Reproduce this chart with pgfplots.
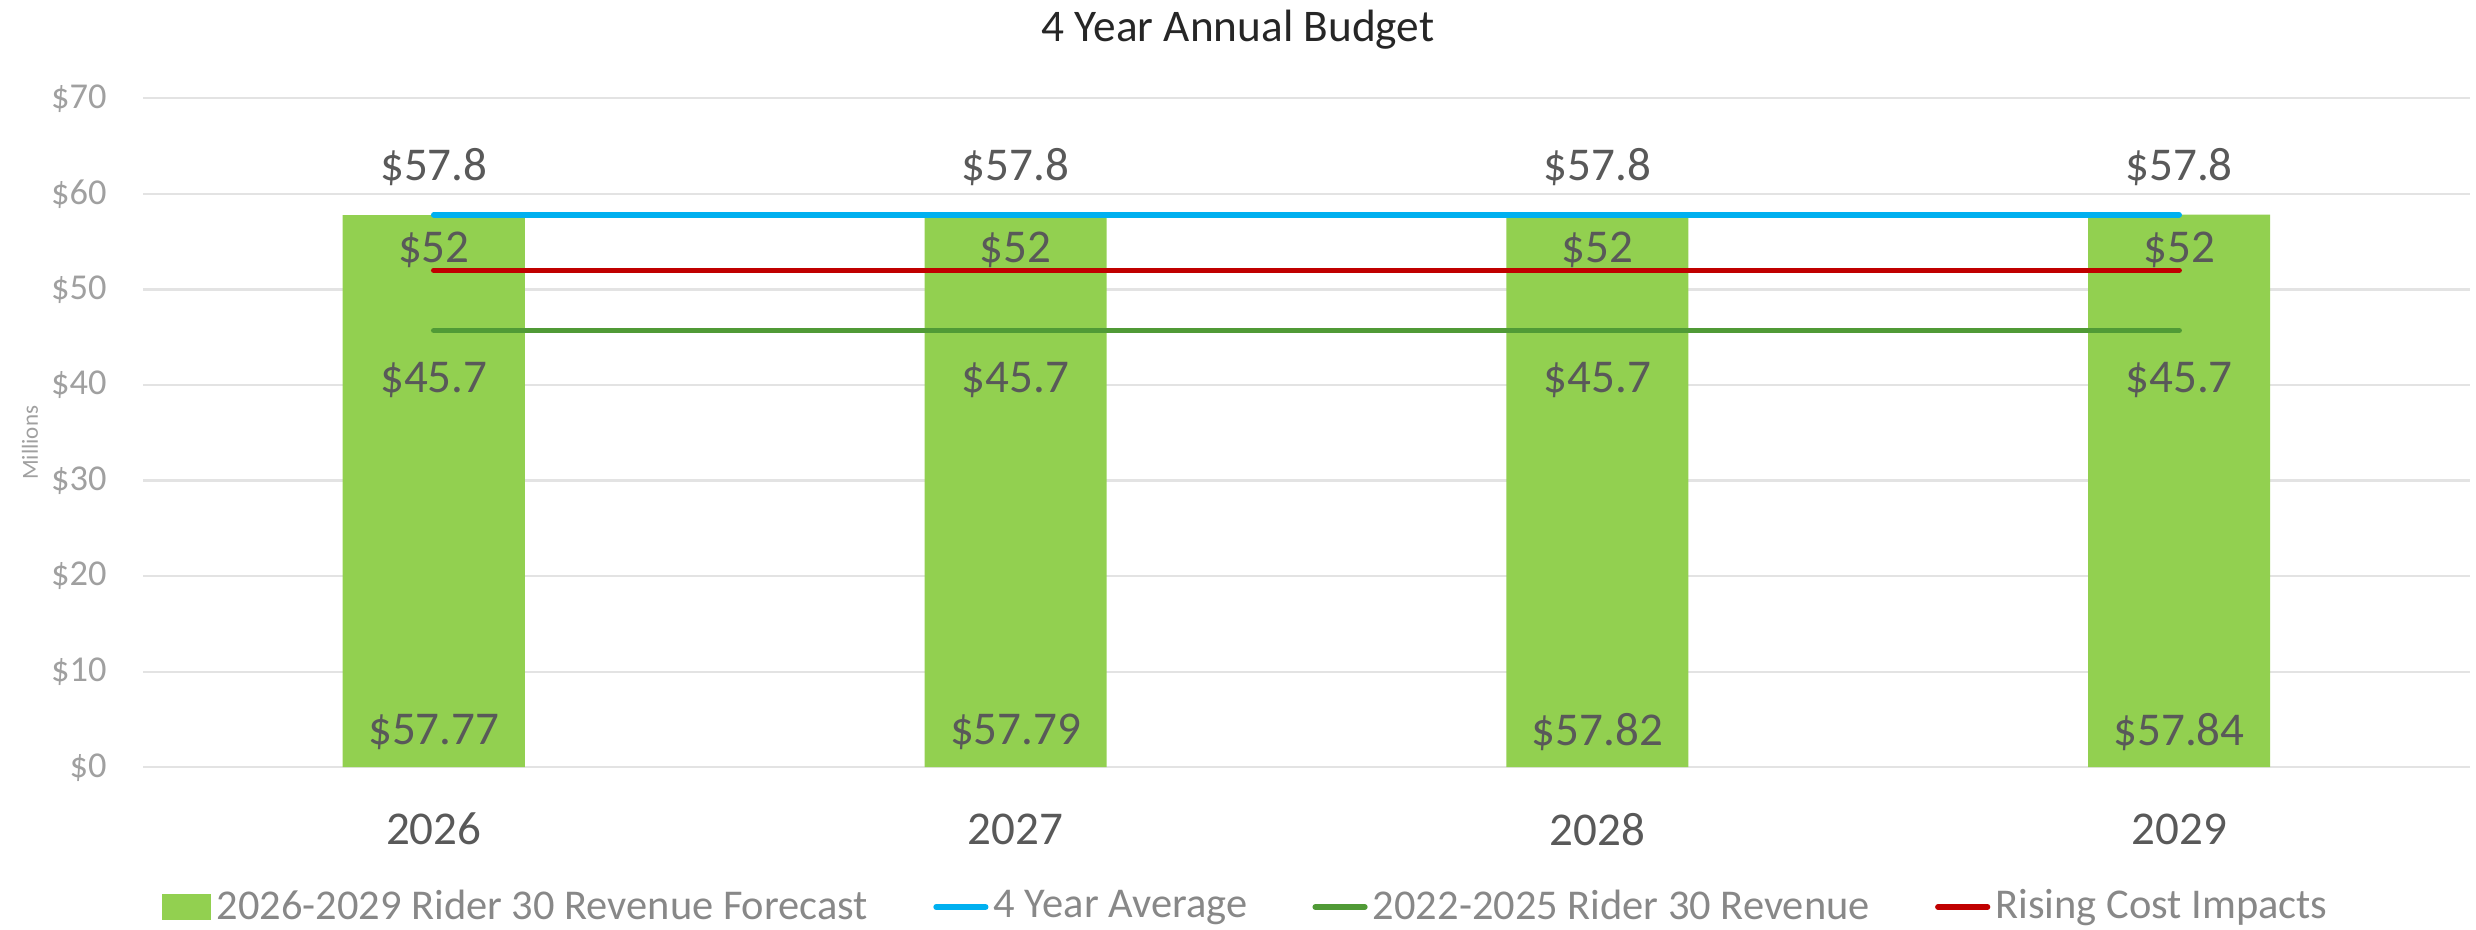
\documentclass[border=0pt]{standalone}
\usepackage{fontspec}
\setmainfont{Carlito}
\usepackage{pgfplots}
\pgfplotsset{compat=1.18}

\definecolor{barGreen}{HTML}{92D050}
\definecolor{avgBlue}{HTML}{00B0F0}
\definecolor{oldGreen}{HTML}{509A36}
\definecolor{costRed}{HTML}{C00000}
\definecolor{labelGrey}{HTML}{595959}
\definecolor{tickGrey}{HTML}{A0A0A0}
\definecolor{gridGrey}{HTML}{E3E3E3}

\begin{document}
\begin{tikzpicture}
\path[use as bounding box] (0,0) rectangle (700pt,262.65pt);
\begin{axis}[
    at={(40.4pt,45.75pt)}, anchor=south west,
    scale only axis,
    width=657.9pt, height=189.1pt,
    xmin=-0.5, xmax=3.5,
    ymin=0, ymax=70,
    xtick={0,1,2,3},
    xticklabels={2026,2027,2028,2029},
    ytick={0,10,20,30,40,50,60,70},
    yticklabels={\$0,\$10,\$20,\$30,\$40,\$50,\$60,\$70},
    axis line style={draw=none},
    major tick length=0pt,
    ymajorgrids,
    grid style={gridGrey, line width=0.6pt},
    yticklabel style={font=\fontsize{10.3}{12}\selectfont, text=tickGrey, anchor=east, inner sep=0pt, xshift=-10.1pt},
    xticklabel style={font=\fontsize{13.3}{15}\selectfont, text=labelGrey, anchor=center, inner sep=0pt, yshift=-17.5pt},
    title={4 Year Annual Budget},
    title style={font=\fontsize{12.8}{15}\selectfont, text=black!85, at={(0.4706,1)}, anchor=center, yshift=13.5pt},
    ylabel={Millions},
    ylabel style={font=\fontsize{6.5}{8}\selectfont, text=tickGrey, at={(axis description cs:-0.0485,0.485)}, anchor=center},
    legend columns=4,
    legend style={draw=none, fill=none, at={(0.4746,-0.209)}, anchor=center,
        font=\fontsize{12}{14}\selectfont, text=tickGrey!85!black,
        inner sep=0pt,
        nodes={inner xsep=1.5pt, inner ysep=1pt},
        /tikz/every even column/.append style={column sep=17pt}},
    clip=false,
]
% bars
\addplot[ybar, bar width=0.313, fill=barGreen, draw=none,
    legend image code/.code={\fill[barGreen] (0pt,-3.8pt) rectangle (14pt,3.8pt);}]
    coordinates {(0,57.77)(1,57.79)(2,57.82)(3,57.84)};
\addlegendentry{2026-2029 Rider 30 Revenue Forecast}
% 4 year average
\addplot[avgBlue, line width=1.6pt, line cap=round, mark=none,
    nodes near coords, point meta=explicit symbolic,
    nodes near coords style={anchor=center, yshift=13.6pt, text=labelGrey, font=\fontsize{13.3}{15}\selectfont},
    legend image code/.code={\draw[avgBlue, line width=1.6pt, line cap=round] (0pt,0pt) -- (14pt,0pt);}]
    coordinates {(0,57.8)[\$57.8] (1,57.8)[\$57.8] (2,57.8)[\$57.8] (3,57.8)[\$57.8]};
\addlegendentry{4 Year Average}
% 2022-2025 revenue
\addplot[oldGreen, line width=1.6pt, line cap=round, mark=none,
    nodes near coords, point meta=explicit symbolic,
    nodes near coords style={anchor=center, yshift=-14.1pt, text=labelGrey, font=\fontsize{13.3}{15}\selectfont},
    legend image code/.code={\draw[oldGreen, line width=1.6pt, line cap=round] (0pt,0pt) -- (14pt,0pt);}]
    coordinates {(0,45.7)[\$45.7] (1,45.7)[\$45.7] (2,45.7)[\$45.7] (3,45.7)[\$45.7]};
\addlegendentry{2022-2025 Rider 30 Revenue}
% rising cost impacts
\addplot[costRed, line width=1.6pt, line cap=round, mark=none,
    nodes near coords, point meta=explicit symbolic,
    nodes near coords style={anchor=center, yshift=5.9pt, text=labelGrey, font=\fontsize{13.3}{15}\selectfont},
    legend image code/.code={\draw[costRed, line width=1.6pt, line cap=round] (0pt,0pt) -- (14pt,0pt);}]
    coordinates {(0,52)[\$52] (1,52)[\$52] (2,52)[\$52] (3,52)[\$52]};
\addlegendentry{Rising Cost Impacts}
% bar value labels at the base
\addplot[draw=none, mark=none, forget plot,
    nodes near coords, point meta=explicit symbolic,
    nodes near coords style={anchor=center, yshift=9.9pt, text=labelGrey, font=\fontsize{13.3}{15}\selectfont}]
    coordinates {(0,0)[\$57.77] (1,0)[\$57.79] (2,0)[\$57.82] (3,0)[\$57.84]};
\end{axis}
\end{tikzpicture}
\end{document}
